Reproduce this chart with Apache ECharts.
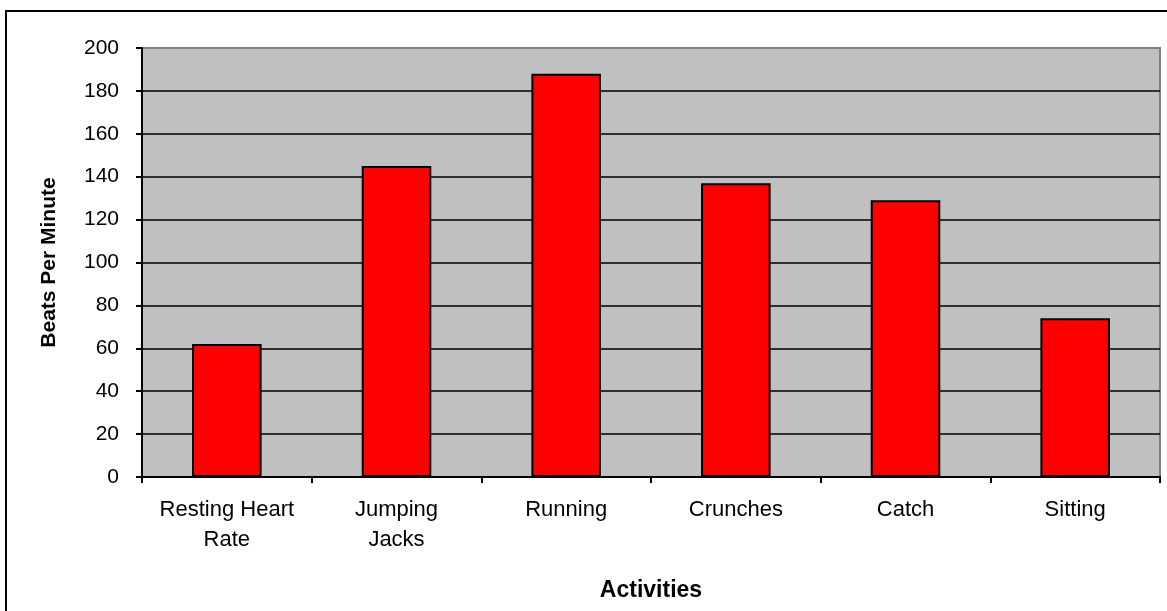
<!DOCTYPE html>
<html>
<head>
<meta charset="utf-8">
<title>Beats Per Minute by Activity</title>
<script src="https://cdn.jsdelivr.net/npm/echarts@6/dist/echarts.min.js"></script>
<style>
  html, body { margin: 0; padding: 0; background: #fff; }
  #chart { width: 1167px; height: 611px; }
</style>
</head>
<body>
<div id="chart"></div>
<script>
// data
const activities = ['Resting Heart\nRate', 'Jumping\nJacks', 'Running', 'Crunches', 'Catch', 'Sitting']
const beatsPerMinute = [62, 145, 188, 137, 129, 74]
const yMin = 0
const yMax = 200
const yStep = 20

const font = '"Liberation Sans", Arial, sans-serif'

const chart = echarts.init(document.getElementById('chart'))

const option = {
  backgroundColor: '#fff',
  animation: false,
  graphic: [
    {
      // outer chart frame
      type: 'rect',
      silent: true,
      shape: { x: 6, y: 11, width: 1300, height: 800 },
      style: { fill: 'none', stroke: '#000', lineWidth: 2 },
    },
  ],
  grid: {
    left: 142,
    right: 7,
    top: 48,
    bottom: 134,
    show: true,
    backgroundColor: '#c0c0c0',
    borderColor: '#808080',
    borderWidth: 2,
  },
  xAxis: {
    type: 'category',
    data: activities,
    name: 'Activities',
    nameLocation: 'middle',
    nameGap: 102,
    nameTextStyle: { fontFamily: font, fontSize: 23, fontWeight: 'bold', color: '#000' },
    axisLine: { lineStyle: { color: '#000', width: 2 } },
    axisTick: { show: true, length: 6, lineStyle: { color: '#000', width: 2 } },
    axisLabel: {
      interval: 0,
      margin: 18,
      fontFamily: font,
      fontSize: 22,
      lineHeight: 30,
      color: '#000',
    },
    splitLine: { show: false },
  },
  yAxis: {
    type: 'value',
    min: yMin,
    max: yMax,
    interval: yStep,
    name: 'Beats Per Minute',
    nameLocation: 'middle',
    nameGap: 82,
    nameTextStyle: { fontFamily: font, fontSize: 21, fontWeight: 'bold', color: '#000' },
    axisLine: { show: true, lineStyle: { color: '#000', width: 2 } },
    axisTick: { show: true, length: 6, lineStyle: { color: '#000', width: 2 } },
    axisLabel: { margin: 23, fontFamily: font, fontSize: 21, color: '#000' },
    splitLine: {
      show: true,
      showMaxLine: false,
      lineStyle: { color: '#000', width: 1.5 },
    },
  },
  series: [
    {
      name: 'Beats Per Minute',
      type: 'bar',
      data: beatsPerMinute,
      barWidth: '41%',
      itemStyle: {
        color: '#ff0000',
        borderColor: '#000',
        borderWidth: 2,
      },
    },
  ],
}

chart.setOption(option)
</script>
</body>
</html>
